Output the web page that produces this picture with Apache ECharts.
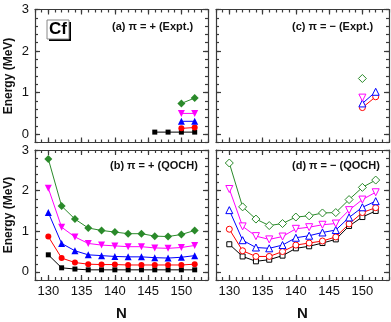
<!DOCTYPE html>
<html>
<head>
<meta charset="utf-8">
<script src="https://cdn.jsdelivr.net/npm/echarts@6/dist/echarts.min.js"></script>
<style>
  html, body { margin: 0; padding: 0; background: #fff; }
  #main { width: 391px; height: 322px; }
</style>
</head>
<body>
<div id="main"></div>
<script>
var myChart = echarts.init(document.getElementById('main'));

// neutron numbers
var nQOCH = [130, 132, 134, 136, 138, 140, 142, 144, 146, 148, 150, 152];
var nExpGround = [146, 148, 150, 152];
var nExp = [150, 152];

// tick labels
var xMajor = [130, 135, 140, 145, 150];
var yMajor = [0, 1, 2, 3];

// (a) positive parity, experiment
var aBlack = [0.05, 0.05, 0.05, 0.05];
var aRed = [0.14, 0.16];
var aBlue = [0.31, 0.31];
var aMagenta = [0.50, 0.50];
var aGreen = [0.74, 0.87];

// (c) negative parity, experiment
var cRed = [0.64, 0.90];
var cBlue = [0.74, 1.02];
var cMagenta = [0.88];
var cGreen = [1.34];

// (b) positive parity, QOCH
var bBlack = [0.42, 0.10, 0.07, 0.05, 0.05, 0.05, 0.05, 0.05, 0.05, 0.05, 0.05, 0.05];
var bRed = [0.87, 0.34, 0.23, 0.19, 0.18, 0.18, 0.17, 0.17, 0.17, 0.17, 0.17, 0.19];
var bBlue = [1.46, 0.70, 0.52, 0.42, 0.40, 0.38, 0.37, 0.37, 0.35, 0.34, 0.36, 0.40];
var bMagenta = [2.06, 1.10, 0.86, 0.70, 0.66, 0.64, 0.62, 0.62, 0.59, 0.58, 0.60, 0.65];
var bGreen = [2.78, 1.62, 1.30, 1.08, 1.02, 0.98, 0.94, 0.94, 0.88, 0.87, 0.92, 1.02];

// (d) negative parity, QOCH
var dBlack = [0.68, 0.38, 0.26, 0.30, 0.40, 0.58, 0.63, 0.71, 0.80, 1.13, 1.35, 1.50];
var dRed = [1.05, 0.52, 0.38, 0.38, 0.50, 0.66, 0.71, 0.76, 0.86, 1.18, 1.46, 1.58];
var dBlue = [1.52, 0.78, 0.60, 0.58, 0.66, 0.84, 0.89, 0.97, 1.03, 1.34, 1.59, 1.74];
var dMagenta = [2.04, 1.12, 0.88, 0.80, 0.87, 1.06, 1.10, 1.16, 1.19, 1.52, 1.78, 1.96];
var dGreen = [2.68, 1.60, 1.30, 1.14, 1.19, 1.35, 1.38, 1.45, 1.46, 1.78, 2.08, 2.26];

var frame = { color: '#3a3a3a', width: 1.2 };
var font = 'Liberation Sans';

var grids = [
    { left: 35, top: 9.5, width: 173, height: 133 },   // a
    { left: 216, top: 9.5, width: 173, height: 133 },  // c
    { left: 35, top: 150, width: 173, height: 133 },   // b
    { left: 216, top: 150, width: 173, height: 133 }   // d
];

var xAxes = [];
var yAxes = [];

function addAxes(gi, showX, showY) {
    ['bottom', 'top'].forEach(function (pos) {
        var main = pos === 'bottom';
        xAxes.push({
            gridIndex: gi, type: 'value', min: 128, max: 154, position: pos,
            axisLine: { show: true, onZero: false, lineStyle: frame },
            axisTick: { inside: true, length: 5, customValues: xMajor, lineStyle: frame },
            axisLabel: { show: main && showX, customValues: xMajor, fontFamily: font, fontSize: 13, color: '#111', margin: 5 },
            splitLine: { show: false },
            name: (main && showX) ? 'N' : '', nameLocation: 'middle', nameGap: 26,
            nameTextStyle: { fontFamily: font, fontSize: 15, fontWeight: 'bold', color: '#111' }
        });
        xAxes.push({
            gridIndex: gi, type: 'value', min: 128, max: 154, interval: 1, position: pos,
            axisLine: { show: false, onZero: false },
            axisTick: { inside: true, length: 3, lineStyle: frame },
            axisLabel: { show: false }, splitLine: { show: false }
        });
    });
    ['left', 'right'].forEach(function (pos) {
        var main = pos === 'left';
        yAxes.push({
            gridIndex: gi, type: 'value', min: -0.2, max: 3, position: pos,
            axisLine: { show: true, onZero: false, lineStyle: frame },
            axisTick: { inside: true, length: 5, customValues: yMajor, lineStyle: frame },
            axisLabel: {
                show: main && showY, customValues: yMajor, showMaxLabel: true, showMinLabel: true,
                fontFamily: font, fontSize: 13, color: '#111', margin: 6
            },
            splitLine: { show: false },
            name: (main && showY) ? 'Energy (MeV)' : '', nameLocation: 'middle', nameGap: 20,
            nameTextStyle: { fontFamily: font, fontSize: 12, fontWeight: 'bold', color: '#111' }
        });
        yAxes.push({
            gridIndex: gi, type: 'value', min: -0.2, max: 3, interval: 0.2, position: pos,
            axisLine: { show: false, onZero: false },
            axisTick: { inside: true, length: 3, lineStyle: frame },
            axisLabel: { show: false }, splitLine: { show: false }
        });
    });
}

addAxes(0, false, true);
addAxes(1, false, false);
addAxes(2, true, true);
addAxes(3, true, false);

var styles = {
    black: { color: '#000000', symbol: 'rect', size: 5, rot: 0 },
    red: { color: '#ff0000', symbol: 'circle', size: 6, rot: 0 },
    blue: { color: '#0000ff', symbol: 'triangle', size: 7, rot: 0 },
    magenta: { color: '#ff00ff', symbol: 'triangle', size: 7, rot: 180 },
    green: { color: '#2a8a2a', symbol: 'diamond', size: 8, rot: 0 }
};

var series = [];
function addSeries(gi, ns, vals, key, open) {
    var s = styles[key];
    series.push({
        type: 'line',
        xAxisIndex: gi * 4,
        yAxisIndex: gi * 4,
        data: ns.map(function (n, i) { return [n, vals[i]]; }),
        symbol: s.symbol,
        symbolSize: s.size,
        symbolRotate: s.rot,
        showSymbol: true,
        lineStyle: { color: s.color, width: 1 },
        itemStyle: open ? { color: '#fff', borderColor: s.color, borderWidth: 1 } : { color: s.color },
        animation: false,
        silent: true
    });
}

addSeries(0, nExpGround, aBlack, 'black', false);
addSeries(0, nExp, aRed, 'red', false);
addSeries(0, nExp, aBlue, 'blue', false);
addSeries(0, nExp, aMagenta, 'magenta', false);
addSeries(0, nExp, aGreen, 'green', false);

addSeries(1, nExp, cRed, 'red', true);
addSeries(1, nExp, cBlue, 'blue', true);
addSeries(1, [150], cMagenta, 'magenta', true);
addSeries(1, [150], cGreen, 'green', true);

addSeries(2, nQOCH, bBlack, 'black', false);
addSeries(2, nQOCH, bRed, 'red', false);
addSeries(2, nQOCH, bBlue, 'blue', false);
addSeries(2, nQOCH, bMagenta, 'magenta', false);
addSeries(2, nQOCH, bGreen, 'green', false);

addSeries(3, nQOCH, dBlack, 'black', true);
addSeries(3, nQOCH, dRed, 'red', true);
addSeries(3, nQOCH, dBlue, 'blue', true);
addSeries(3, nQOCH, dMagenta, 'magenta', true);
addSeries(3, nQOCH, dGreen, 'green', true);

function panelText(x, y, txt) {
    return {
        type: 'text', left: x, top: y,
        style: { text: txt, fontFamily: font, fontSize: 11, fontWeight: 'bold', fill: '#111' }
    };
}

var option = {
    backgroundColor: '#fff',
    animation: false,
    grid: grids,
    xAxis: xAxes,
    yAxis: yAxes,
    series: series,
    graphic: [
        panelText(112, 21, '(a) \u03c0 = + (Expt.)'),
        panelText(292, 21, '(c) \u03c0 = \u2212 (Expt.)'),
        panelText(110, 160, '(b) \u03c0 = + (QOCH)'),
        panelText(292, 160, '(d) \u03c0 = \u2212 (QOCH)'),
        { type: 'rect', shape: { x: 49, y: 22, width: 22, height: 19 }, style: { fill: '#000' } },
        { type: 'rect', shape: { x: 47, y: 20, width: 22, height: 19 }, style: { fill: '#fff', stroke: '#888', lineWidth: 1 } },
        {
            type: 'text', x: 58, y: 29.5,
            style: { text: 'Cf', fontFamily: font, fontSize: 17, fontWeight: 'bold', fill: '#000', align: 'center', verticalAlign: 'middle' }
        }
    ]
};
myChart.setOption(option);
</script>
</body>
</html>
